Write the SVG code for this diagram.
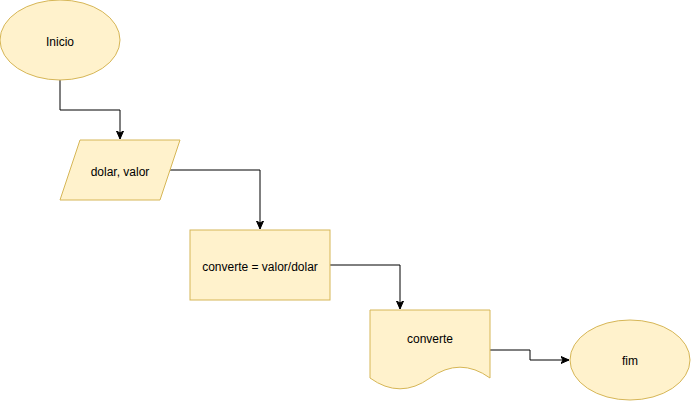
<svg xmlns="http://www.w3.org/2000/svg" width="691" height="401" viewBox="0 0 691 401">
<style>
.n{fill:#fff2cc;stroke:#d6b656;stroke-width:1}
.t{font-family:"Liberation Sans",Arial,sans-serif;font-size:12px;fill:#000;text-anchor:middle}
.c{fill:none;stroke:#000;stroke-width:1}
</style>
<defs>
<marker id="a" markerUnits="userSpaceOnUse" markerWidth="10" markerHeight="10" refX="8" refY="4.5" orient="auto" viewBox="0 0 10 9">
<path d="M0,1 L8,4.5 L0,8 L2,4.5 Z" fill="#000" stroke="#000" stroke-width="1"/>
</marker>
</defs>
<rect width="691" height="401" fill="#fff"/>
<g id="connectors">
<path class="c" d="M60,80 V110 H120 V139" marker-end="url(#a)"/>
<path class="c" d="M170,170 H260 V229" marker-end="url(#a)"/>
<path class="c" d="M330,265 H400 V309" marker-end="url(#a)"/>
<path class="c" d="M490,350 H530 V360 H569" marker-end="url(#a)"/>
</g>
<g id="inicio">
<ellipse class="n" cx="60" cy="40" rx="60" ry="40"/>
<text class="t" x="60" y="46">Inicio</text>
</g>
<g id="entrada">
<path class="n" d="M80,140 H180 L160,200 H60 Z"/>
<text class="t" x="120" y="176">dolar, valor</text>
</g>
<g id="processo">
<rect class="n" x="190" y="230" width="140" height="70"/>
<text class="t" x="260" y="271">converte = valor/dolar</text>
</g>
<g id="saida">
<path class="n" d="M370,310 H490 V378 Q460,356.4 430,378 Q400,399.6 370,378 Z"/>
<text class="t" x="430" y="343">converte</text>
</g>
<g id="fim">
<ellipse class="n" cx="630" cy="360" rx="60" ry="40"/>
<text class="t" x="630" y="365">fim</text>
</g>
</svg>
